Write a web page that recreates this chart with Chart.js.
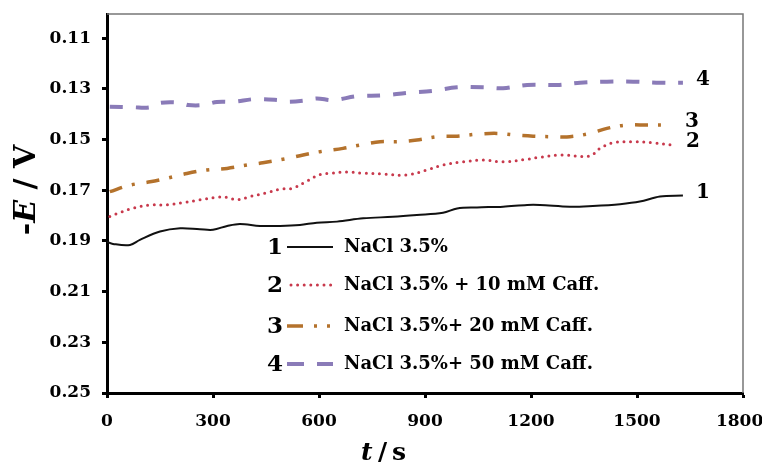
<!DOCTYPE html>
<html>
<head>
<meta charset="utf-8">
<script src="https://cdn.jsdelivr.net/npm/chart.js@4.4.0/dist/chart.umd.min.js"></script>
<style>
  html, body { margin: 0; padding: 0; background: #fff; }
</style>
</head>
<body>
<canvas id="chart" width="762" height="463"></canvas>
<script>
// values: t in s, -E in V
let time1 = [0, 17, 65, 93, 150, 207, 263, 300, 340, 376, 433, 490, 546, 594, 651, 725, 809, 877, 951, 991, 1047, 1121, 1189, 1225, 1310, 1375, 1452, 1508, 1565, 1630];
let potential1 = [0.1904, 0.1912, 0.1916, 0.1896, 0.1863, 0.1850, 0.1854, 0.1856, 0.1841, 0.1833, 0.1841, 0.1841, 0.1837, 0.1828, 0.1824, 0.1811, 0.1805, 0.1798, 0.1789, 0.1772, 0.1768, 0.1765, 0.1758, 0.1758, 0.1765, 0.1762, 0.1755, 0.1745, 0.1725, 0.1721];

let time2 = [8, 37, 74, 122, 170, 215, 263, 311, 340, 368, 405, 453, 490, 526, 566, 603, 631, 679, 725, 781, 849, 906, 951, 1008, 1064, 1121, 1189, 1225, 1282, 1367, 1395, 1432, 1489, 1545, 1602];
let potential2 = [0.1804, 0.1788, 0.1771, 0.1758, 0.1758, 0.1749, 0.1738, 0.1728, 0.1728, 0.1738, 0.1725, 0.1710, 0.1696, 0.1692, 0.1664, 0.1638, 0.1634, 0.1628, 0.1633, 0.1636, 0.1640, 0.1620, 0.1601, 0.1588, 0.1581, 0.1588, 0.1578, 0.1570, 0.1561, 0.1565, 0.1535, 0.1513, 0.1509, 0.1513, 0.1522];

let time3 = [8, 65, 122, 170, 226, 283, 340, 396, 441, 498, 555, 603, 668, 716, 773, 821, 877, 934, 991, 1047, 1104, 1160, 1206, 1262, 1310, 1367, 1415, 1472, 1528, 1599];
let potential3 = [0.1706, 0.1680, 0.1667, 0.1653, 0.1634, 0.1620, 0.1614, 0.1601, 0.1592, 0.1578, 0.1561, 0.1548, 0.1535, 0.1522, 0.1509, 0.1509, 0.1502, 0.1489, 0.1487, 0.1479, 0.1476, 0.1483, 0.1487, 0.1489, 0.1489, 0.1476, 0.1456, 0.1443, 0.1443, 0.1443];

let time4 = [8, 74, 122, 150, 207, 229, 272, 311, 357, 413, 441, 490, 509, 566, 594, 640, 708, 781, 849, 923, 991, 1064, 1121, 1189, 1274, 1339, 1415, 1489, 1565, 1630];
let potential4 = [0.1371, 0.1373, 0.1373, 0.1356, 0.1355, 0.1364, 0.1364, 0.1352, 0.1351, 0.1341, 0.1341, 0.1345, 0.1351, 0.1345, 0.1338, 0.1345, 0.1329, 0.1326, 0.1316, 0.1308, 0.1294, 0.1294, 0.1298, 0.1285, 0.1285, 0.1276, 0.1272, 0.1272, 0.1276, 0.1276];

let seriesNumbers = ['1', '2', '3', '4'];
let seriesNames = ['NaCl 3.5%', 'NaCl 3.5% + 10 mM Caff.', 'NaCl 3.5%+ 20 mM Caff.', 'NaCl 3.5%+ 50 mM Caff.'];
let xTicks = [0, 300, 600, 900, 1200, 1500, 1800];
let yTicks = [0.11, 0.13, 0.15, 0.17, 0.19, 0.21, 0.23, 0.25];

const SERIF = '"DejaVu Serif", "Liberation Serif", serif';

function pts(ts, vs) {
  return ts.map((t, i) => ({ x: t, y: vs[i] }));
}

// line style per series, and the dash used for the little legend sample
let styles = [
  { color: '#111111', width: 2, dash: [], cap: 'butt', legendDash: [] },
  { color: '#c8394c', width: 3, dash: [0, 6.6], cap: 'round', legendDash: [0, 6.6] },
  { color: '#b4722c', width: 3.5, dash: [13, 10, 3, 12], cap: 'butt', legendDash: [16, 11, 3, 10, 3, 20] },
  { color: '#8a7bb8', width: 4, dash: [13, 13], cap: 'butt', legendDash: [17, 13] }
];

let allTimes = [time1, time2, time3, time4];
let allPotentials = [potential1, potential2, potential3, potential4];

let datasets = allTimes.map((ts, i) => ({
  label: seriesNames[i],
  data: pts(ts, allPotentials[i]),
  borderColor: styles[i].color,
  borderWidth: styles[i].width,
  borderDash: styles[i].dash,
  borderCapStyle: styles[i].cap,
  pointRadius: 0,
  tension: 0.35,
  fill: false
}));

function noPad(s) {
  s.paddingLeft = 0; s.paddingRight = 0; s.paddingTop = 0; s.paddingBottom = 0;
}

// frame, legend, end labels and axis titles
const decorations = {
  id: 'decorations',
  beforeDatasetsDraw(chart) {
    const { ctx, chartArea: a } = chart;
    ctx.save();
    ctx.strokeStyle = '#777';
    ctx.lineWidth = 1.5;
    ctx.beginPath();
    ctx.moveTo(a.left, a.top);
    ctx.lineTo(a.right, a.top);
    ctx.lineTo(a.right, a.bottom);
    ctx.stroke();
    ctx.restore();
  },
  afterDraw(chart) {
    const { ctx } = chart;
    ctx.save();
    ctx.fillStyle = '#000';
    ctx.textBaseline = 'middle';

    // numbers at the end of each curve
    ctx.font = 'bold 20px ' + SERIF;
    ctx.textAlign = 'left';
    chart.data.datasets.forEach((ds, i) => {
      const meta = chart.getDatasetMeta(i);
      const last = meta.data[meta.data.length - 1];
      ctx.fillText(seriesNumbers[i], last.x + 13, last.y - 3);
    });

    // legend inside the plot
    const rowsY = [247, 285, 326, 364];
    rowsY.forEach((y, i) => {
      const st = styles[i];
      ctx.font = 'bold 23px ' + SERIF;
      ctx.textAlign = 'center';
      ctx.fillText(seriesNumbers[i], 275, y + 1);
      ctx.beginPath();
      ctx.strokeStyle = st.color;
      ctx.lineWidth = i === 0 ? 1.8 : st.width;
      ctx.lineCap = st.cap;
      ctx.setLineDash(st.legendDash);
      ctx.moveTo(i === 1 ? 291 : 287, y);
      ctx.lineTo(333, y);
      ctx.stroke();
      ctx.setLineDash([]);
      ctx.font = 'bold 18px ' + SERIF;
      ctx.textAlign = 'left';
      ctx.fillText(seriesNames[i], 344, y);
    });

    // y title: -E / V
    ctx.save();
    ctx.translate(27, 190);
    ctx.rotate(-Math.PI / 2);
    ctx.textAlign = 'left';
    const p1 = '-', p2 = 'E', p3 = ' / V';
    ctx.font = 'bold 30px ' + SERIF;
    const w1 = ctx.measureText(p1).width, w3 = ctx.measureText(p3).width;
    ctx.font = 'italic bold 30px ' + SERIF;
    const w2 = ctx.measureText(p2).width;
    let x0 = -(w1 + w2 + w3) / 2;
    ctx.font = 'bold 30px ' + SERIF;
    ctx.fillText(p1, x0, 0);
    ctx.font = 'italic bold 30px ' + SERIF;
    ctx.fillText(p2, x0 + w1, 0);
    ctx.font = 'bold 30px ' + SERIF;
    ctx.fillText(p3, x0 + w1 + w2, 0);
    ctx.restore();

    // x title: t / s
    ctx.textAlign = 'left';
    ctx.textBaseline = 'alphabetic';
    ctx.font = 'italic bold 25px ' + SERIF;
    ctx.fillText('t', 361, 460);
    ctx.font = 'bold 25px ' + SERIF;
    ctx.fillText('/', 378, 460);
    ctx.fillText('s', 392, 460);
    ctx.restore();
  }
};

new Chart(document.getElementById('chart').getContext('2d'), {
  type: 'line',
  data: { datasets: datasets },
  options: {
    responsive: false,
    animation: false,
    layout: { padding: { top: 14, right: 19, left: 0, bottom: 0 } },
    plugins: { legend: { display: false }, tooltip: { enabled: false } },
    scales: {
      x: {
        type: 'linear',
        min: 0,
        max: 1800,
        afterBuildTicks: s => { s.ticks = xTicks.map(v => ({ value: v })); },
        afterFit: s => { s.height = 70; noPad(s); },
        border: { display: true, color: '#000', width: 3 },
        grid: { drawOnChartArea: false, drawTicks: true, tickLength: 5, tickWidth: 3, tickColor: '#000' },
        ticks: {
          color: '#000',
          padding: 13,
          maxRotation: 0,
          font: { family: SERIF, size: 17, weight: 'bold' },
          callback: v => (v === 1800 ? '1800\u2009\u2009' : String(v))
        }
      },
      y: {
        type: 'linear',
        reverse: true,
        min: 0.1005,
        max: 0.25,
        afterBuildTicks: s => { s.ticks = yTicks.map(v => ({ value: v })); },
        afterFit: s => { s.width = 107; noPad(s); },
        border: { display: true, color: '#000', width: 3 },
        grid: { drawOnChartArea: false, drawTicks: true, tickLength: 5, tickWidth: 3, tickColor: '#000' },
        ticks: {
          color: '#000',
          padding: 11,
          font: { family: SERIF, size: 17, weight: 'bold' },
          callback: v => v.toFixed(2)
        }
      }
    }
  },
  plugins: [decorations]
});
</script>
</body>
</html>
